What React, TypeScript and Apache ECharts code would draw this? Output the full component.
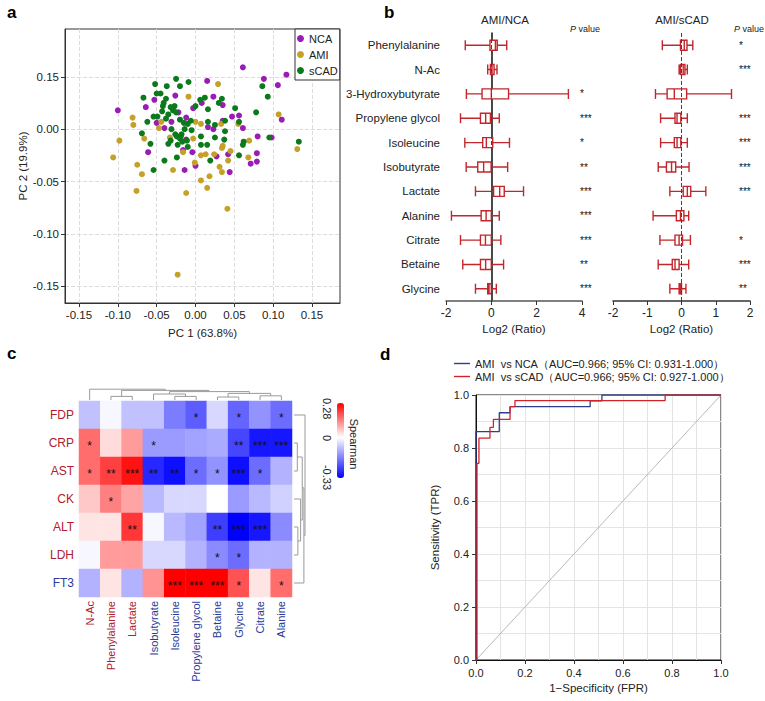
import React, { useEffect, useRef } from 'react';
import * as echarts from 'echarts';

const FONT = "'Liberation Sans', Arial, sans-serif";

// ---------- Panel a : PCA scores ----------
const ncaPoints: number[][] = [
  [-0.100, 0.018], [-0.064, 0.021], [-0.053, 0.028], [-0.026, 0.032], [0.015, 0.046], [0.008, 0.025],
  [-0.003, 0.020], [-0.022, 0.016], [-0.012, 0.011], [-0.050, 0.006], [-0.040, 0.001], [-0.031, 0.007],
  [-0.061, -0.022], [-0.016, -0.020], [-0.004, -0.022], [-0.014, -0.039], [0.000, -0.035], [-0.019, -0.007],
  [-0.012, -0.010], [0.061, 0.059], [0.088, 0.048], [0.117, 0.052], [0.106, 0.042], [0.023, 0.031],
  [0.035, 0.023], [0.047, 0.012], [0.056, 0.013], [0.061, 0.001], [0.035, 0.008], [0.016, 0.002],
  [0.023, 0.000], [0.111, 0.009], [0.080, -0.007], [0.098, -0.008], [0.079, -0.023], [0.071, -0.033],
  [0.079, -0.031], [0.042, -0.024], [0.027, -0.026], [0.044, -0.041],
];
const amiPoints: number[][] = [
  [-0.081, 0.011], [-0.080, 0.004], [-0.098, -0.011], [-0.106, -0.027], [-0.075, -0.034], [-0.069, -0.043],
  [-0.076, -0.059], [-0.066, -0.009], [-0.044, 0.007], [-0.047, 0.001], [-0.033, -0.008], [-0.029, -0.039],
  [-0.012, -0.061], [-0.009, 0.031], [0.000, 0.007], [-0.003, -0.009], [-0.016, -0.022], [0.007, -0.025],
  [0.013, -0.024], [-0.001, -0.032], [0.007, -0.049], [0.015, -0.056], [0.018, -0.045], [0.007, 0.005],
  [0.029, 0.043], [0.107, 0.014], [0.055, 0.005], [0.033, 0.005], [0.069, -0.011], [0.035, -0.016],
  [0.034, -0.018], [0.045, -0.021], [0.042, -0.030], [0.024, -0.024], [0.068, -0.027], [0.031, -0.036],
  [0.034, -0.041], [0.041, -0.076], [0.131, -0.019], [-0.023, -0.139],
];
const scadPoints: number[][] = [
  [-0.052, 0.043], [-0.037, 0.041], [-0.025, 0.048], [-0.020, 0.041], [-0.009, 0.045], [-0.050, 0.034],
  [-0.045, 0.034], [-0.067, 0.030], [-0.038, 0.029], [-0.041, 0.025], [-0.042, 0.022], [-0.032, 0.021],
  [-0.027, 0.022], [-0.029, 0.018], [-0.035, 0.014], [-0.025, 0.016], [-0.043, 0.017], [-0.049, 0.012],
  [-0.054, 0.012], [-0.062, 0.007], [-0.038, 0.010], [-0.020, 0.009], [-0.015, 0.006], [-0.010, 0.005],
  [-0.006, 0.008], [-0.014, 0.000], [-0.005, -0.001], [0.006, 0.028], [0.012, 0.030], [0.000, 0.022],
  [0.016, 0.019], [0.016, 0.007], [-0.031, 0.000], [-0.026, -0.005], [-0.024, -0.007], [-0.020, -0.009],
  [-0.017, -0.012], [-0.011, -0.011], [-0.010, -0.017], [-0.035, -0.014], [-0.032, -0.011], [-0.023, -0.015],
  [0.007, -0.007], [0.007, -0.015], [0.015, -0.015], [-0.069, -0.004], [-0.058, -0.014], [-0.040, -0.030],
  [-0.054, -0.039], [-0.024, -0.027], [0.019, -0.030], [-0.018, -0.005], [0.086, 0.041], [0.093, 0.031],
  [0.034, 0.029], [0.030, 0.025], [0.051, 0.020], [0.078, 0.016], [0.038, 0.008], [0.025, 0.004],
  [0.056, 0.007], [0.038, -0.002], [0.037, -0.010], [0.025, -0.008], [0.062, -0.012], [0.061, -0.015],
  [0.095, -0.008], [0.056, -0.025], [0.133, -0.012],
];
const pcaXTicks = [-0.15, -0.1, -0.05, 0, 0.05, 0.1, 0.15];
const pcaXTickLabels = ['-0.15', '-0.10', '-0.05', '0.00', '0.05', '0.10', '0.15'];
const pcaYTicks = [-0.15, -0.1, -0.05, 0, 0.05];
const pcaYTickLabels = ['-0.15', '-0.10', '-0.05', '0.00', '0.15'];

// ---------- Panel b : log2 ratio boxplots ----------
const boxCategories = ['Phenylalanine', 'N-Ac', '3-Hydroxybutyrate', 'Propylene glycol', 'Isoleucine',
  'Isobutyrate', 'Lactate', 'Alanine', 'Citrate', 'Betaine', 'Glycine'];
const amiNcaBox = [
  [-1.15, -0.06, 0.18, 0.26, 0.68],
  [-0.16, -0.04, 0.03, 0.12, 0.25],
  [-1.1, -0.41, 0.0, 0.76, 3.4],
  [-1.36, -0.48, -0.25, -0.04, 0.35],
  [-1.17, -0.38, -0.22, 0.06, 0.8],
  [-1.11, -0.6, -0.34, -0.01, 0.72],
  [-0.7, 0.1, 0.37, 0.57, 1.42],
  [-1.76, -0.45, -0.23, 0.0, 0.35],
  [-1.36, -0.48, -0.26, 0.0, 0.42],
  [-1.26, -0.48, -0.25, 0.0, 0.54],
  [-0.7, -0.16, -0.1, 0.0, 0.22],
];
const amiScadBox = [
  [-0.56, -0.03, 0.08, 0.16, 0.33],
  [-0.07, -0.03, 0.05, 0.1, 0.17],
  [-0.76, -0.42, -0.21, 0.15, 1.46],
  [-0.61, -0.19, -0.13, -0.02, 0.17],
  [-0.61, -0.21, -0.13, -0.02, 0.17],
  [-0.68, -0.44, -0.29, -0.17, 0.22],
  [-0.34, 0.05, 0.17, 0.27, 0.71],
  [-0.83, -0.15, -0.03, 0.07, 0.21],
  [-0.63, -0.19, -0.07, 0.03, 0.26],
  [-0.68, -0.27, -0.19, -0.07, 0.21],
  [-0.34, -0.07, -0.03, 0.0, 0.13],
];
const amiNcaStars = ['', '', '*', '***', '*', '**', '***', '***', '***', '**', '***'];
const amiScadStars = ['*', '***', '', '***', '***', '***', '***', '', '*', '***', '**'];

// ---------- Panel c : Spearman heatmap ----------
const heatRows = ['FDP', 'CRP', 'AST', 'CK', 'ALT', 'LDH', 'FT3'];
const heatCols = ['N-Ac', 'Phenylalanine', 'Lactate', 'Isobutyrate', 'Isoleucine', 'Propylene glycol',
  'Betaine', 'Glycine', 'Citrate', 'Alanine'];
const heatRedLabels = ['FDP', 'CRP', 'AST', 'CK', 'ALT', 'LDH', 'N-Ac', 'Phenylalanine', 'Lactate'];
const heatValues = [
  [-0.08, -0.01, -0.08, -0.08, -0.17, -0.21, -0.05, -0.2, -0.14, -0.19],
  [0.16, 0.04, 0.11, -0.13, -0.13, -0.12, -0.11, -0.24, -0.3, -0.3],
  [0.16, 0.21, 0.26, -0.28, -0.31, -0.19, -0.14, -0.31, -0.19, -0.1],
  [0.06, 0.14, 0.1, -0.09, -0.05, -0.05, 0.0, -0.13, -0.09, -0.06],
  [0.03, 0.03, 0.22, -0.01, -0.09, -0.12, -0.25, -0.33, -0.3, -0.15],
  [-0.01, 0.11, 0.11, -0.05, -0.05, -0.1, -0.15, -0.19, -0.1, -0.1],
  [-0.1, 0.03, -0.1, 0.12, 0.28, 0.28, 0.28, 0.19, 0.03, 0.16],
];
const heatStars = [
  ['', '', '', '', '', '*', '', '*', '', '*'],
  ['*', '', '', '*', '', '', '', '**', '***', '***'],
  ['*', '**', '***', '**', '**', '*', '*', '***', '*', ''],
  ['', '*', '', '', '', '', '', '', '', ''],
  ['', '', '**', '', '', '', '**', '***', '***', ''],
  ['', '', '', '', '', '', '*', '*', '', ''],
  ['', '', '', '', '***', '***', '***', '*', '', '*'],
];
// dendrogram merges: [left, right, leftHeight, rightHeight, mergeHeight]
const colMerges = [
  [1, 2, 0, 0, 0.3], [6, 7, 0, 0, 0.25], [8, 9, 0, 0, 0.35], [6.5, 8.5, 0.25, 0.35, 0.55],
  [4, 5, 0, 0, 0.3], [3, 4.5, 0, 0.3, 0.5], [3.75, 7.5, 0.5, 0.55, 0.7], [1.5, 5.6, 0.3, 0.7, 0.8],
  [0, 3.55, 0, 0.8, 0.9],
];
const rowMerges = [
  [1, 2, 0, 0, 0.3], [4, 5, 0, 0, 0.35], [3, 4.5, 0, 0.35, 0.6], [1.5, 3.75, 0.3, 0.6, 0.75],
  [2.6, 6, 0.75, 0, 0.9], [0, 4.3, 0, 0.9, 1.0],
];
const heatMin = -0.33;
const heatMax = 0.28;

// ---------- Panel d : ROC ----------
const rocNcaName = 'AMI  vs NCA（AUC=0.966; 95% CI: 0.931-1.000）';
const rocScadName = 'AMI  vs sCAD（AUC=0.966; 95% CI: 0.927-1.000）';
const rocNca = [[0, 0], [0, 0.862], [0.095, 0.862], [0.095, 0.933], [0.139, 0.933], [0.139, 0.956],
  [0.466, 0.956], [0.466, 0.978], [0.514, 0.978], [0.514, 1], [1, 1]];
const rocScad = [[0.004, 0], [0.004, 0.742], [0.012, 0.742], [0.012, 0.837], [0.057, 0.837], [0.057, 0.878],
  [0.071, 0.878], [0.071, 0.908], [0.139, 0.908], [0.139, 0.956], [0.159, 0.956], [0.159, 0.979],
  [0.772, 0.979], [0.772, 1], [1, 1]];
const rocChance = [[0, 0], [1, 1]];

const PURPLE = '#9a1bb5';
const GOLD = '#c4a12a';
const GREEN = '#0c7a1c';
const BOXRED = '#c1272d';
const LABEL_RED = '#b0202e';
const LABEL_BLUE = '#2a3a9a';
const TXT = '#222';
const ROC_BLUE = '#2c3e8c';
const ROC_RED = '#d2232a';

function lookup(ticks: number[], labels: string[]) {
  return (v: number) => {
    const i = ticks.findIndex((t) => Math.abs(t - v) < 1e-9);
    return i >= 0 ? labels[i] : '';
  };
}

// diverging blue-white-red scale with white exactly at 0
function divergingStops(min: number, max: number, n: number): string[] {
  const out: string[] = [];
  for (let i = 0; i < n; i++) {
    const v = min + (i / (n - 1)) * (max - min);
    let r = 255, g = 255, b = 255;
    if (v < 0) {
      const t = Math.min(1, v / min);
      r = Math.round(255 * (1 - t)); g = r; b = 255;
    } else {
      const t = Math.min(1, v / max);
      g = Math.round(255 * (1 - t)); b = g; r = 255;
    }
    out.push(`rgb(${r},${g},${b})`);
  }
  return out;
}

function buildOption(): any {
  const heatData: any[] = [];
  heatValues.forEach((row, r) => row.forEach((v, c) => heatData.push([c, r, v])));
  const colLines = colMerges.map(([l, r, hl, hr, h]) => ({ coords: [[l, hl], [l, h], [r, h], [r, hr]] }));
  const rowLines = rowMerges.map(([l, r, hl, hr, h]) => ({ coords: [[hl, l], [h, l], [h, r], [hr, r]] }));

  const valueAxisBase = (extra: any) => ({
    type: 'value',
    axisLine: { show: true, onZero: false, lineStyle: { color: '#333', width: 1 } },
    axisTick: { show: true, length: 4, lineStyle: { color: '#333' } },
    axisLabel: { fontSize: 11, color: TXT, fontFamily: FONT },
    splitLine: { show: false },
    nameTextStyle: { fontSize: 11.5, color: TXT, fontFamily: FONT },
    ...extra,
  });
  const hidden = (extra: any) => ({ show: false, ...extra });

  return {
    animation: false,
    backgroundColor: '#fff',
    textStyle: { fontFamily: FONT },
    grid: [
      { left: 65, top: 29, width: 275, height: 274, show: true, borderColor: '#333', borderWidth: 1, outerBoundsMode: 'none' },
      { left: 446, top: 33, width: 136, height: 268, outerBoundsMode: 'none' },
      { left: 613, top: 33, width: 137, height: 268, outerBoundsMode: 'none' },
      { left: 79, top: 401, width: 213, height: 196, outerBoundsMode: 'none' },
      { left: 79, top: 388, width: 213, height: 12, outerBoundsMode: 'none' },
      { left: 294, top: 401, width: 11, height: 196, outerBoundsMode: 'none' },
      { left: 476, top: 395, width: 245, height: 265, show: true, borderColor: '#111', borderWidth: 1, outerBoundsMode: 'none' },
    ],
    xAxis: [
      valueAxisBase({
        gridIndex: 0, min: -0.168, max: 0.186,
        axisTick: { show: true, length: 4, customValues: pcaXTicks, lineStyle: { color: '#333' } },
        axisLabel: { customValues: pcaXTicks, formatter: lookup(pcaXTicks, pcaXTickLabels), fontSize: 11.5, color: TXT, margin: 6 },
        splitLine: { show: true, lineStyle: { type: 'dashed', color: '#dcdcdc' } },
        name: 'PC 1 (63.8%)', nameLocation: 'middle', nameGap: 24,
      }),
      valueAxisBase({
        gridIndex: 1, min: -2, max: 4, interval: 2,
        axisLine: { show: true, onZero: false, lineStyle: { color: '#555', width: 1.5 } },
        axisLabel: { fontSize: 12, color: TXT, margin: 6 },
        name: 'Log2 (Ratio)', nameLocation: 'middle', nameGap: 22,
      }),
      valueAxisBase({
        gridIndex: 2, min: -2, max: 2, interval: 1,
        axisLine: { show: true, onZero: false, lineStyle: { color: '#333', width: 1.5 } },
        axisLabel: { fontSize: 12, color: TXT, margin: 6 },
        name: 'Log2 (Ratio)', nameLocation: 'middle', nameGap: 22,
      }),
      {
        type: 'category', gridIndex: 3, data: heatCols,
        axisLine: { show: false }, axisTick: { show: false }, splitLine: { show: false },
        axisLabel: {
          rotate: 90, fontSize: 11, margin: 4, fontFamily: FONT,
          color: (v: string) => (heatRedLabels.includes(v) ? LABEL_RED : LABEL_BLUE),
        },
      },
      hidden({ type: 'value', gridIndex: 4, min: -0.5, max: 9.5 }),
      hidden({ type: 'value', gridIndex: 5, min: 0, max: 1 }),
      valueAxisBase({
        gridIndex: 6, min: 0, max: 1, interval: 0.2,
        axisLine: { show: true, onZero: false, lineStyle: { color: '#111', width: 1 } },
        axisLabel: { fontSize: 11, color: TXT, margin: 7, formatter: (v: number) => v.toFixed(1) },
        splitLine: { show: true, lineStyle: { color: '#e4e4e4' } },
        minorTick: { show: false, splitNumber: 2 },
        minorSplitLine: { show: true, lineStyle: { color: '#e4e4e4' } },
        name: '1\u2212Specificity (FPR)', nameLocation: 'middle', nameGap: 22,
      }),
    ],
    yAxis: [
      valueAxisBase({
        gridIndex: 0, min: -0.166, max: 0.0956,
        axisTick: { show: true, length: 4, customValues: pcaYTicks, lineStyle: { color: '#333' } },
        axisLabel: { customValues: pcaYTicks, formatter: lookup(pcaYTicks, pcaYTickLabels), fontSize: 11.5, color: TXT, margin: 6 },
        splitLine: { show: true, lineStyle: { type: 'dashed', color: '#dcdcdc' } },
        name: 'PC 2 (19.9%)', nameLocation: 'middle', nameGap: 36,
      }),
      {
        type: 'category', gridIndex: 1, data: boxCategories, inverse: true,
        axisLine: { show: true, lineStyle: { color: '#111', width: 1.5 } },
        axisTick: { show: true, alignWithLabel: true, length: 4, lineStyle: { color: '#111' } },
        axisLabel: { fontSize: 11.5, color: TXT, margin: 6 },
        splitLine: { show: false },
      },
      {
        type: 'category', gridIndex: 1, data: amiNcaStars, inverse: true, position: 'right',
        axisLine: { show: false }, axisTick: { show: false }, splitLine: { show: false },
        axisLabel: { fontSize: 10, color: '#111', margin: -2, padding: [6, 0, 0, 0] },
      },
      {
        type: 'category', gridIndex: 2, data: boxCategories, inverse: true,
        axisLine: { show: false }, axisTick: { show: false }, axisLabel: { show: false }, splitLine: { show: false },
      },
      {
        type: 'category', gridIndex: 2, data: amiScadStars, inverse: true, position: 'right',
        axisLine: { show: false }, axisTick: { show: false }, splitLine: { show: false },
        axisLabel: { fontSize: 10, color: '#111', margin: -11, padding: [6, 0, 0, 0] },
      },
      {
        type: 'category', gridIndex: 3, data: heatRows, inverse: true,
        axisLine: { show: false }, axisTick: { show: false }, splitLine: { show: false },
        axisLabel: {
          fontSize: 12, margin: 5, fontFamily: FONT,
          color: (v: string) => (heatRedLabels.includes(v) ? LABEL_RED : LABEL_BLUE),
        },
      },
      hidden({ type: 'value', gridIndex: 4, min: 0, max: 1 }),
      hidden({ type: 'value', gridIndex: 5, min: -0.5, max: 6.5, inverse: true }),
      valueAxisBase({
        gridIndex: 6, min: 0, max: 1, interval: 0.2,
        axisLine: { show: true, onZero: false, lineStyle: { color: '#111', width: 1 } },
        axisLabel: { fontSize: 11, color: TXT, margin: 7, formatter: (v: number) => v.toFixed(1) },
        splitLine: { show: true, lineStyle: { color: '#e4e4e4' } },
        minorTick: { show: false, splitNumber: 2 },
        minorSplitLine: { show: true, lineStyle: { color: '#e4e4e4' } },
        name: 'Sensitivity (TPR)', nameLocation: 'middle', nameGap: 35,
      }),
    ],
    legend: [
      {
        data: ['NCA', 'AMI', 'sCAD'], left: 295, top: 29, orient: 'vertical', icon: 'circle',
        itemWidth: 7, itemHeight: 7, itemGap: 5, padding: [4, 2, 4, 2],
        borderColor: '#333', borderWidth: 1, backgroundColor: '#fff', selectedMode: false,
        textStyle: { fontSize: 11, color: TXT, fontFamily: FONT },
      },
      {
        data: [rocNcaName, rocScadName], left: 454, top: 357, orient: 'vertical', icon: 'rect',
        itemWidth: 16, itemHeight: 1.4, itemGap: 0, padding: 0, selectedMode: false,
        textStyle: { fontSize: 11, color: TXT, fontFamily: FONT, lineHeight: 13 },
      },
    ],
    visualMap: {
      type: 'continuous', min: heatMin, max: heatMax, seriesIndex: 5, dimension: 2,
      orient: 'vertical', left: 337, top: 403, itemWidth: 7, itemHeight: 75, padding: 0,
      calculable: false, text: ['', ''], showLabel: false,
      inRange: { color: divergingStops(heatMin, heatMax, 62) },
    },
    series: [
      { type: 'scatter', name: 'NCA', xAxisIndex: 0, yAxisIndex: 0, data: ncaPoints, symbolSize: 6, itemStyle: { color: PURPLE, opacity: 1 } },
      { type: 'scatter', name: 'AMI', xAxisIndex: 0, yAxisIndex: 0, data: amiPoints, symbolSize: 6, itemStyle: { color: GOLD, opacity: 1 } },
      { type: 'scatter', name: 'sCAD', xAxisIndex: 0, yAxisIndex: 0, data: scadPoints, symbolSize: 6, itemStyle: { color: GREEN, opacity: 1 } },
      {
        type: 'boxplot', name: 'AMI/NCA', xAxisIndex: 1, yAxisIndex: 1, layout: 'horizontal', data: amiNcaBox,
        boxWidth: [10, 10], itemStyle: { color: '#fff', borderColor: BOXRED, borderWidth: 1.4 },
        markLine: {
          silent: true, symbol: ['none', 'none'], label: { show: false },
          lineStyle: { type: 'dashed', color: '#444', width: 1 }, data: [{ xAxis: 0 }],
        },
      },
      {
        type: 'boxplot', name: 'AMI/sCAD', xAxisIndex: 2, yAxisIndex: 3, layout: 'horizontal', data: amiScadBox,
        boxWidth: [10, 10], itemStyle: { color: '#fff', borderColor: BOXRED, borderWidth: 1.4 },
        markLine: {
          silent: true, symbol: ['none', 'none'], label: { show: false },
          lineStyle: { type: 'dashed', color: '#444', width: 1 }, data: [{ xAxis: 0 }],
        },
      },
      {
        type: 'heatmap', name: 'Spearman', xAxisIndex: 3, yAxisIndex: 5, data: heatData,
        label: {
          show: true, color: '#111', fontSize: 12, offset: [0, 3],
          formatter: (p: any) => heatStars[p.value[1]][p.value[0]],
        },
        itemStyle: { borderWidth: 0 },
      },
      {
        type: 'lines', coordinateSystem: 'cartesian2d', xAxisIndex: 4, yAxisIndex: 6, polyline: true,
        data: colLines, lineStyle: { color: '#9a9a9a', width: 1, opacity: 1 }, silent: true,
      },
      {
        type: 'lines', coordinateSystem: 'cartesian2d', xAxisIndex: 5, yAxisIndex: 7, polyline: true,
        data: rowLines, lineStyle: { color: '#9a9a9a', width: 1, opacity: 1 }, silent: true,
      },
      {
        type: 'line', name: 'chance', xAxisIndex: 6, yAxisIndex: 8, data: rocChance, symbol: 'none',
        lineStyle: { color: '#b8b8b8', width: 1 }, silent: true,
      },
      {
        type: 'line', name: rocNcaName, xAxisIndex: 6, yAxisIndex: 8, data: rocNca, symbol: 'none',
        lineStyle: { color: ROC_BLUE, width: 1.3 }, itemStyle: { color: ROC_BLUE },
      },
      {
        type: 'line', name: rocScadName, xAxisIndex: 6, yAxisIndex: 8, data: rocScad, symbol: 'none',
        lineStyle: { color: ROC_RED, width: 1.3 }, itemStyle: { color: ROC_RED },
      },
    ],
    graphic: [
      { type: 'text', x: 7, y: 4, style: { text: 'a', fontSize: 17, fontWeight: 'bold', fontFamily: FONT, fill: '#000' } },
      { type: 'text', x: 384, y: 4, style: { text: 'b', fontSize: 17, fontWeight: 'bold', fontFamily: FONT, fill: '#000' } },
      { type: 'text', x: 7, y: 345, style: { text: 'c', fontSize: 17, fontWeight: 'bold', fontFamily: FONT, fill: '#000' } },
      { type: 'text', x: 380, y: 346, style: { text: 'd', fontSize: 17, fontWeight: 'bold', fontFamily: FONT, fill: '#000' } },
      { type: 'text', x: 505, y: 20, style: { text: 'AMI/NCA', fontSize: 11.5, fontFamily: FONT, fill: TXT, textAlign: 'center', textVerticalAlign: 'middle', verticalAlign: 'middle' } },
      { type: 'text', x: 682, y: 20, style: { text: 'AMI/sCAD', fontSize: 11.5, fontFamily: FONT, fill: TXT, textAlign: 'center', textVerticalAlign: 'middle', verticalAlign: 'middle' } },
      { type: 'text', x: 570, y: 29, style: { text: '{i|P} value', fontSize: 9, fontFamily: FONT, fill: TXT, textVerticalAlign: 'middle', verticalAlign: 'middle', rich: { i: { fontStyle: 'italic', fontSize: 9, fontFamily: FONT } } } },
      { type: 'text', x: 734, y: 29, style: { text: '{i|P} value', fontSize: 9, fontFamily: FONT, fill: TXT, textVerticalAlign: 'middle', verticalAlign: 'middle', rich: { i: { fontStyle: 'italic', fontSize: 9, fontFamily: FONT } } } },
      { type: 'text', x: 327, y: 398, rotation: -Math.PI / 2, style: { text: '0.28', fontSize: 11, fontFamily: FONT, fill: TXT, textAlign: 'left', textVerticalAlign: 'middle', verticalAlign: 'middle' } },
      { type: 'text', x: 327, y: 438, rotation: -Math.PI / 2, style: { text: '0', fontSize: 11, fontFamily: FONT, fill: TXT, textAlign: 'center', textVerticalAlign: 'middle', verticalAlign: 'middle' } },
      { type: 'text', x: 327, y: 490, rotation: -Math.PI / 2, style: { text: '-0.33', fontSize: 11, fontFamily: FONT, fill: TXT, textAlign: 'right', textVerticalAlign: 'middle', verticalAlign: 'middle' } },
      { type: 'text', x: 354, y: 444, rotation: -Math.PI / 2, style: { text: 'Spearman', fontSize: 11, fontFamily: FONT, fill: TXT, textAlign: 'center', textVerticalAlign: 'middle', verticalAlign: 'middle' } },
    ],
  };
}

export default function App() {
  const ref = useRef<HTMLDivElement>(null);
  useEffect(() => {
    if (!ref.current) return;
    const chart = echarts.init(ref.current, null, { renderer: 'svg', width: 765, height: 701 });
    chart.setOption(buildOption());
    return () => chart.dispose();
  }, []);
  return (
    <div
      ref={ref}
      style={{ position: 'absolute', left: 0, top: 0, width: 765, height: 701, background: '#fff' }}
    />
  );
}
